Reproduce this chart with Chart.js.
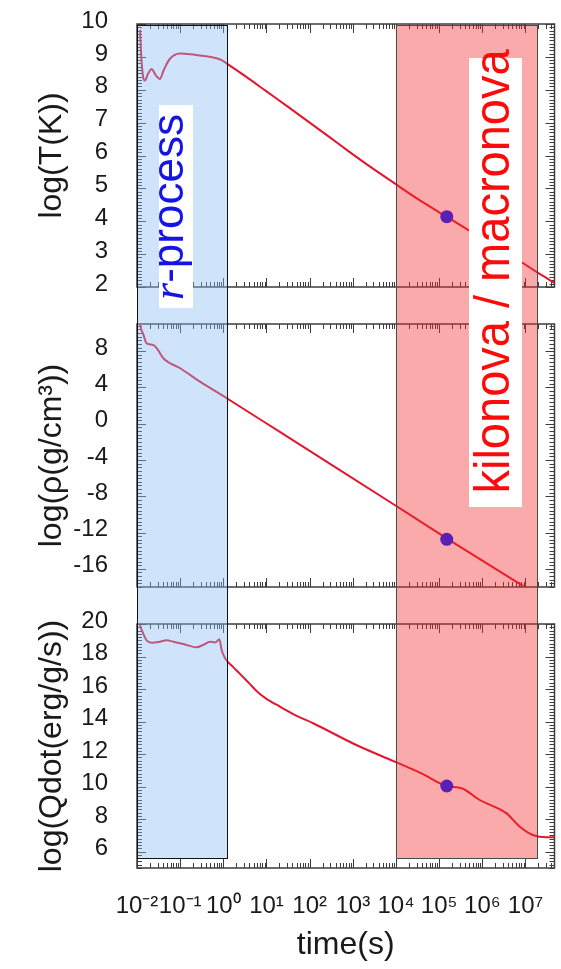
<!DOCTYPE html>
<html><head><meta charset="utf-8">
<script src="https://cdn.jsdelivr.net/npm/chart.js@4.4.1/dist/chart.umd.min.js"></script>
<style>
html,body{margin:0;padding:0;background:#fff;}
#wrap{position:relative;width:561px;height:969px;overflow:hidden;background:#fff;}
canvas{position:absolute;left:0;}
.lab{position:absolute;background:#fff;}
.lab .rot{position:absolute;white-space:nowrap;text-align:center;font-family:'Liberation Sans',Arial,sans-serif;}
</style></head>
<body><div id="wrap">
<canvas id="cT" width="561" height="305" style="top:0;width:561px;height:305px"></canvas>
<canvas id="cR" width="561" height="300" style="top:305px;width:561px;height:300px"></canvas>
<canvas id="cQ" width="561" height="364" style="top:605px;width:561px;height:364px"></canvas>
<div class="lab" style="left:159px;top:105px;width:34px;height:203px;">
  <div class="rot" style="width:203px;height:34px;left:-84.5px;top:84.5px;line-height:34px;font-size:44px;color:#1414e6;transform:rotate(-90deg);"><span style="position:relative;top:-9px"><span style="font-family:'Liberation Serif',serif;font-style:italic">r</span>-process</span></div>
</div>
<div class="lab" style="left:469px;top:58px;width:53px;height:449px;">
  <div class="rot" style="width:449px;height:53px;left:-198px;top:198px;line-height:53px;font-size:50px;color:#ff0a0a;transform:rotate(-90deg) scale(0.94,1);"><span style="position:relative;top:-3px">kilonova / macronova</span></div>
</div>
</div>
<script>
// ---------- data ----------
const X_MIN = 0.01, X_MAX = 4.7e7;
const X_TICKS = [1e-2, 1e-1, 1e0, 1e1, 1e2, 1e3, 1e4, 1e5, 1e6, 1e7];

// shaded phases (time in s)
const SPAN_R_PROCESS = [0.01, 1.2];
const SPAN_KILONOVA = [1e4, 1.8e7];

// marked epoch (s)
const DOT_TIME = 1.5e5;

// temperature panel: log10(time/s), log10(T/K)
const tempLogTime = [-1.93,-1.90,-1.86,-1.82,-1.74,-1.66,-1.57,-1.47,-1.38,-1.25,-1.0,-0.77,-0.54,-0.23,-0.04,0.1,0.5,1.0,1.5,2.0,2.5,2.85,3.4,3.97,4.5,5.17,5.67,6.3,6.94,7.3,7.68];
const tempLog = [9.82,9.0,8.4,8.28,8.5,8.63,8.45,8.33,8.6,8.92,9.1,9.08,9.04,8.98,8.9,8.78,8.42,7.95,7.48,7.0,6.52,6.18,5.66,5.15,4.68,4.14,3.74,3.25,2.73,2.42,2.12];
const tempDot = 4.14;
const tempTicks = [2,3,4,5,6,7,8,9,10];

// density panel: log10(time/s), log10(rho / g cm^-3)
const rhoLogTime = [-1.93,-1.90,-1.85,-1.78,-1.70,-1.62,-1.54,-1.39,-1.0,-0.54,0.08,1.31,2.5,3.97,5.21,6.0,6.95];
const rhoLog = [11.0,10.4,9.8,8.87,8.75,8.68,8.32,7.22,6.12,4.64,2.81,-0.9,-4.5,-8.96,-12.74,-15.1,-17.9];
const rhoDot = -12.74;
const rhoTicks = [-16,-12,-8,-4,0,4,8];

// heating-rate panel: log10(time/s), log10(Qdot / erg g^-1 s^-1)
const qLogTime = [-1.93,-1.89,-1.78,-1.66,-1.47,-1.31,-1.16,-0.93,-0.62,-0.47,-0.31,-0.19,-0.09,-0.04,0.04,0.23,0.38,0.6,0.8,1.0,1.31,1.7,2.08,3.08,3.97,4.6,5.17,5.52,5.94,6.56,6.87,7.17,7.48,7.68];
const qLog = [19.94,19.63,19.0,18.85,18.91,19.0,18.91,18.77,18.57,18.71,18.91,18.87,19.06,18.4,17.9,17.35,16.95,16.35,15.8,15.4,14.92,14.35,13.9,12.56,11.54,10.8,10.04,9.9,9.18,8.36,7.54,7.03,6.89,6.89];
const qDot = 10.04;
const qTicks = [6,8,10,12,14,16,18,20];

// ---------- styles ----------
const FONT = "'Liberation Sans', Arial, sans-serif";
const TXT = '#1a1a1a';
const LINE_COLOR = '#e3172c';
const DOT_COLOR = '#5a1fb4';
const FRAME_COLOR = '#3c3c3c';
const SPAN_STYLES = [
  {span: SPAN_R_PROCESS, fill: 'rgba(135,188,242,0.4)', stroke: '#111'},
  {span: SPAN_KILONOVA, fill: 'rgba(242,42,42,0.4)', stroke: '#4a4a4a'}
];

const SUP = {'-':'\u207B','0':'\u2070','1':'\u00B9','2':'\u00B2','3':'\u00B3','4':'\u2074','5':'\u2075','6':'\u2076','7':'\u2077','8':'\u2078','9':'\u2079'};
function tickLabel(v) {
  const e = String(Math.round(Math.log10(v)));
  return '10' + e.split('').map(c => SUP[c]).join('');
}

const framePlugin = {
  id: 'frame',
  beforeDatasetsDraw(chart, args, opts) {
    const {ctx, chartArea: a, scales: {x, y}} = chart;
    ctx.save();
    ctx.strokeStyle = FRAME_COLOR; ctx.lineWidth = 1;
    ctx.beginPath();
    for (let e = -2; e <= 8; e++) {
      for (let m = 1; m <= 9; m++) {
        const v = m * Math.pow(10, e);
        if (v < X_MIN * 0.999 || v > X_MAX) continue;
        const px = Math.round(x.getPixelForValue(v)) + 0.5;
        const len = m === 1 ? 9 : 5;
        ctx.moveTo(px, a.bottom); ctx.lineTo(px, a.bottom - len);
        ctx.moveTo(px, a.top); ctx.lineTo(px, a.top + len);
      }
    }
    const mn = opts.minor, mj = opts.major;
    for (let n = Math.ceil(y.min / mn - 1e-9); n * mn <= y.max + 1e-9; n++) {
      const v = n * mn;
      const r = v / mj;
      const isMajor = Math.abs(r - Math.round(r)) < 1e-6;
      const py = Math.round(y.getPixelForValue(v)) + 0.5;
      const len = isMajor ? 9 : 5;
      ctx.moveTo(a.left, py); ctx.lineTo(a.left + len, py);
      ctx.moveTo(a.right, py); ctx.lineTo(a.right - len, py);
    }
    ctx.stroke();
    ctx.lineWidth = 1.5;
    ctx.strokeRect(a.left, a.top, a.right - a.left, a.bottom - a.top);
    ctx.restore();
  }
};

const spanPlugin = {
  id: 'spans',
  afterDatasetDraw(chart, args, opts) {
    if (args.index !== 1) return;
    const {ctx, chartArea: a, scales: {x}} = chart;
    const y0 = opts.mode === 'first' ? a.top + 1 : 0;
    const y1 = opts.mode === 'last' ? a.bottom - 10 : chart.height;
    SPAN_STYLES.forEach(s => {
      const x0 = Math.round(x.getPixelForValue(s.span[0]));
      const x1 = Math.round(x.getPixelForValue(s.span[1]));
      ctx.save();
      ctx.fillStyle = s.fill;
      ctx.fillRect(x0, y0, x1 - x0, y1 - y0);
      ctx.strokeStyle = s.stroke; ctx.lineWidth = 1;
      ctx.beginPath();
      ctx.moveTo(x0 + 0.5, y0); ctx.lineTo(x0 + 0.5, y1);
      ctx.moveTo(x1 + 0.5, y0); ctx.lineTo(x1 + 0.5, y1);
      if (opts.mode === 'first') { ctx.moveTo(x0, y0 + 0.5); ctx.lineTo(x1, y0 + 0.5); }
      if (opts.mode === 'last') { ctx.moveTo(x0, y1 + 0.5); ctx.lineTo(x1 + 1, y1 + 0.5); }
      ctx.stroke();
      ctx.restore();
    });
  }
};

function makeChart(id, c) {
  return new Chart(document.getElementById(id), {
    type: 'line',
    data: { datasets: [
      { data: [{x: DOT_TIME, y: c.dot}], showLine: false, pointRadius: 6.5, pointBackgroundColor: DOT_COLOR, pointBorderWidth: 0 },
      { data: c.lt.map((lt, i) => ({x: Math.pow(10, lt), y: c.v[i]})), borderColor: LINE_COLOR, borderWidth: 2, pointRadius: 0, fill: false, cubicInterpolationMode: 'monotone' }
    ]},
    plugins: [framePlugin, spanPlugin],
    options: {
      responsive: false, animation: false, devicePixelRatio: 1,
      events: [],
      layout: { padding: { top: c.padTop, bottom: c.padBottom, left: 0, right: 6 } },
      plugins: { legend: {display: false}, tooltip: {enabled: false},
        spans: { mode: c.mode }, frame: { major: c.major, minor: c.minor } },
      scales: {
        x: {
          type: 'logarithmic', min: X_MIN, max: X_MAX, display: c.showX,
          grid: {display: false}, border: {display: false},
          afterBuildTicks: s => { s.ticks = X_TICKS.map(v => ({value: v})); },
          ticks: { autoSkip: false, maxRotation: 0, minRotation: 0, padding: 16, color: TXT,
                   font: {family: FONT, size: 24}, callback: v => tickLabel(v) },
          title: { display: c.showX, text: 'time(s)', color: TXT, font: {family: FONT, size: 32}, padding: {top: 0, bottom: 5} },
          afterFit: s => { if (c.showX) s.height = 101; s.paddingLeft = 0; s.paddingRight = 0; }
        },
        y: {
          min: c.min, max: c.max,
          grid: {display: false}, border: {display: false},
          afterBuildTicks: s => { s.ticks = c.ticks.map(v => ({value: v})); },
          ticks: { autoSkip: false, padding: 21, labelOffset: -3, color: TXT, font: {family: FONT, size: 24} },
          title: { display: true, text: c.title, color: TXT, font: {family: FONT, size: 32}, padding: {top: 33, bottom: 0} },
          afterFit: s => { s.width = 137; s.paddingTop = 0; s.paddingBottom = 0; }
        }
      }
    }
  });
}

makeChart('cT', { lt: tempLogTime, v: tempLog, dot: tempDot, ticks: tempTicks, min: 2, max: 10,
  major: 1, minor: 0.1, title: 'log(T(K))', padTop: 24, padBottom: 18, showX: false, mode: 'first' });
makeChart('cR', { lt: rhoLogTime, v: rhoLog, dot: rhoDot, ticks: rhoTicks, min: -18, max: 11,
  major: 4, minor: 0.4, title: 'log(\u03C1(g/cm\u00B3))', padTop: 19, padBottom: 18, showX: false, mode: 'middle' });
makeChart('cQ', { lt: qLogTime, v: qLog, dot: qDot, ticks: qTicks, min: 5, max: 20,
  major: 2, minor: 0.2, title: 'log(Qdot(erg/g/s))', padTop: 19, padBottom: 0, showX: true, mode: 'last' });
</script>
</body></html>
